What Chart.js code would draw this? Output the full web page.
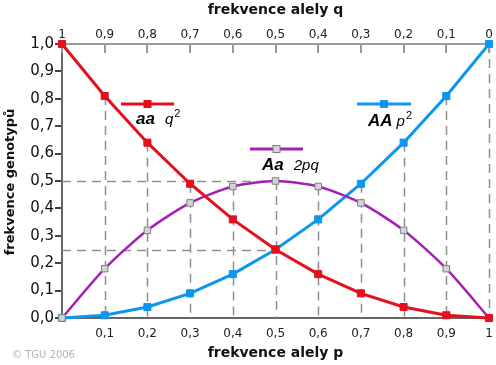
<!DOCTYPE html>
<html>
<head>
<meta charset="utf-8">
<script src="https://cdn.jsdelivr.net/npm/chart.js@4/dist/chart.umd.min.js"></script>
<style>
html,body{margin:0;padding:0;background:#fff;}
#wrap{width:496px;height:365px;position:relative;}
</style>
</head>
<body>
<div id="wrap"><canvas id="c" width="496" height="365"></canvas></div>
<script>
// ---- data ----
const pValues = [0, 0.1, 0.2, 0.3, 0.4, 0.5, 0.6, 0.7, 0.8, 0.9, 1];
const aaValues = [1, 0.81, 0.64, 0.49, 0.36, 0.25, 0.16, 0.09, 0.04, 0.01, 0];
const AaValues = [0, 0.18, 0.32, 0.42, 0.48, 0.5, 0.48, 0.42, 0.32, 0.18, 0];
const AAValues = [0, 0.01, 0.04, 0.09, 0.16, 0.25, 0.36, 0.49, 0.64, 0.81, 1];

const bottomTickLabels = ['', '0,1', '0,2', '0,3', '0,4', '0,5', '0,6', '0,7', '0,8', '0,9', '1'];
const topTickLabels = ['1', '0,9', '0,8', '0,7', '0,6', '0,5', '0,4', '0,3', '0,2', '0,1', '0'];
const yTickLabels = ['0,0', '0,1', '0,2', '0,3', '0,4', '0,5', '0,6', '0,7', '0,8', '0,9', '1,0'];

const seriesNames = ['aa', 'Aa', 'AA'];
const seriesFormulas = [['q', '2'], ['2pq', ''], ['p', '2']];
const refLevels = [0.5, 0.25];
const refX = 0.5;

const titleTop = 'frekvence alely q';
const titleBottom = 'frekvence alely p';
const titleY = 'frekvence genotypů';
const copyright = '© TGU 2006';

// ---- styles ----
const RED = '#e4101c', PURPLE = '#a420b4', BLUE = '#0c97ec';
const FONT = '"DejaVu Sans", Verdana, sans-serif';

function pts(ys) { return pValues.map((x, i) => ({x: x, y: ys[i]})); }

const legendPos = [
  {x1: 121, x2: 174, y: 104, tx: 136, ty: 124},
  {x1: 250, x2: 303, y: 149, tx: 262, ty: 170},
  {x1: 357, x2: 411, y: 104, tx: 368, ty: 126}
];

const decor = {
  id: 'decor',
  beforeDatasetsDraw(chart) {
    const ctx = chart.ctx, xs = chart.scales.x, ys = chart.scales.y;
    ctx.save();
    ctx.setLineDash([9, 6]);
    ctx.lineWidth = 1.5;
    ctx.strokeStyle = '#8f8f8f';
    for (let i = 1; i < pValues.length; i++) {
      const m = Math.max(aaValues[i], AaValues[i], AAValues[i]);
      const px = Math.round(xs.getPixelForValue(pValues[i])) + 0.5;
      ctx.beginPath();
      ctx.moveTo(px, ys.getPixelForValue(m));
      ctx.lineTo(px, ys.getPixelForValue(0));
      ctx.stroke();
    }
    refLevels.forEach(v => {
      const py = Math.round(ys.getPixelForValue(v)) + 0.5;
      ctx.beginPath();
      ctx.moveTo(xs.getPixelForValue(0), py);
      ctx.lineTo(xs.getPixelForValue(refX), py);
      ctx.stroke();
    });
    ctx.setLineDash([]);
    // inner tick marks of top axis
    const x2 = chart.scales.x2;
    ctx.strokeStyle = '#9a9a9a';
    ctx.lineWidth = 2;
    x2.ticks.forEach(t => {
      const px = Math.round(x2.getPixelForValue(t.value));
      ctx.beginPath();
      ctx.moveTo(px, chart.chartArea.top);
      ctx.lineTo(px, chart.chartArea.top + 9);
      ctx.stroke();
    });
    ctx.restore();
  },
  afterDraw(chart) {
    const ctx = chart.ctx, ca = chart.chartArea;
    const cx = (ca.left + ca.right) / 2;
    ctx.save();
    ctx.fillStyle = '#111';
    ctx.font = 'bold 14px ' + FONT;
    ctx.textAlign = 'center';
    ctx.textBaseline = 'middle';
    ctx.fillText(titleTop, cx, 10);
    ctx.fillText(titleBottom, cx, 353);
    ctx.save();
    ctx.translate(11, (ca.top + ca.bottom) / 2 + 1);
    ctx.rotate(-Math.PI / 2);
    ctx.font = 'bold 13px ' + FONT;
    ctx.fillText(titleY, 0, 0);
    ctx.restore();
    ctx.textAlign = 'left';
    ctx.fillStyle = '#b4b4b4';
    ctx.font = '10px ' + FONT;
    ctx.fillText(copyright, 12, 355);
    // legend
    const ds = chart.data.datasets;
    ctx.textBaseline = 'alphabetic';
    legendPos.forEach((lp, i) => {
      const d = ds[i];
      ctx.strokeStyle = d.borderColor;
      ctx.lineWidth = 3;
      ctx.beginPath();
      ctx.moveTo(lp.x1, lp.y);
      ctx.lineTo(lp.x2, lp.y);
      ctx.stroke();
      const mx = (lp.x1 + lp.x2) / 2;
      ctx.fillStyle = d.pointBackgroundColor;
      ctx.strokeStyle = d.pointBorderColor;
      ctx.lineWidth = 1;
      ctx.fillRect(mx - 3.5, lp.y - 3.5, 7, 7);
      ctx.strokeRect(mx - 3.5, lp.y - 3.5, 7, 7);
      ctx.fillStyle = '#000';
      ctx.font = 'italic bold 17px "Liberation Sans", Arial, sans-serif';
      ctx.fillText(seriesNames[i], lp.tx, lp.ty);
      let x = lp.tx + ctx.measureText(seriesNames[i]).width + (i === 2 ? 4 : 10);
      ctx.font = 'italic 15px "Liberation Sans", Arial, sans-serif';
      ctx.fillText(seriesFormulas[i][0], x, lp.ty);
      x += ctx.measureText(seriesFormulas[i][0]).width + 1;
      if (seriesFormulas[i][1]) {
        ctx.font = '11px "Liberation Sans", Arial, sans-serif';
        ctx.fillText(seriesFormulas[i][1], x, lp.ty - 7);
      }
    });
    ctx.restore();
  }
};

function fixX(h) {
  return function (s) { s.height = h; s.paddingLeft = 0; s.paddingRight = 0; };
}

new Chart(document.getElementById('c'), {
  type: 'line',
  data: {
    datasets: [
      {label: seriesNames[0], data: pts(aaValues), borderColor: RED, borderWidth: 3,
       pointStyle: 'rect', pointRadius: 5, pointBackgroundColor: RED, pointBorderColor: RED,
       pointBorderWidth: 1, tension: 0, clip: false},
      {label: seriesNames[1], data: pts(AaValues), borderColor: PURPLE, borderWidth: 2.5,
       pointStyle: 'rect', pointRadius: 4.6, pointBackgroundColor: '#d4d4d4', pointBorderColor: '#808080',
       pointBorderWidth: 1, tension: 0.25, clip: false},
      {label: seriesNames[2], data: pts(AAValues), borderColor: BLUE, borderWidth: 3,
       pointStyle: 'rect', pointRadius: 5, pointBackgroundColor: BLUE, pointBorderColor: BLUE,
       pointBorderWidth: 1, tension: 0, clip: false}
    ]
  },
  options: {
    responsive: false,
    animation: false,
    events: [],
    layout: {padding: {left: 0, right: 7, top: 0, bottom: 0}},
    plugins: {legend: {display: false}, tooltip: {enabled: false}, title: {display: false}},
    scales: {
      x: {
        type: 'linear', position: 'bottom', min: 0, max: 1,
        ticks: {stepSize: 0.1, autoSkip: false, maxRotation: 0, padding: 9, color: '#222',
                font: {family: FONT, size: 12},
                callback: (v, i) => bottomTickLabels[i]},
        grid: {display: false, drawTicks: false, tickLength: 0},
        border: {display: true, color: '#666', width: 2},
        afterFit: fixX(47)
      },
      x2: {
        type: 'linear', position: 'top', min: 0, max: 1,
        ticks: {stepSize: 0.1, autoSkip: false, maxRotation: 0, padding: 2, color: '#222',
                font: {family: FONT, size: 12},
                callback: (v, i) => topTickLabels[i]},
        grid: {display: false, drawTicks: false, tickLength: 0},
        border: {display: true, color: '#9a9a9a', width: 2},
        afterFit: fixX(44)
      },
      y: {
        type: 'linear', min: 0, max: 1,
        ticks: {stepSize: 0.1, autoSkip: false, padding: 1, color: '#111',
                font: {family: FONT, size: 15},
                callback: (v, i) => yTickLabels[i]},
        grid: {display: true, drawOnChartArea: false, drawTicks: true, tickLength: 7, color: '#444', lineWidth: 2},
        border: {display: true, color: '#666', width: 2},
        afterFit: function (s) { s.width = 62; s.paddingTop = 0; s.paddingBottom = 0; }
      }
    }
  },
  plugins: [decor]
});
</script>
</body>
</html>
